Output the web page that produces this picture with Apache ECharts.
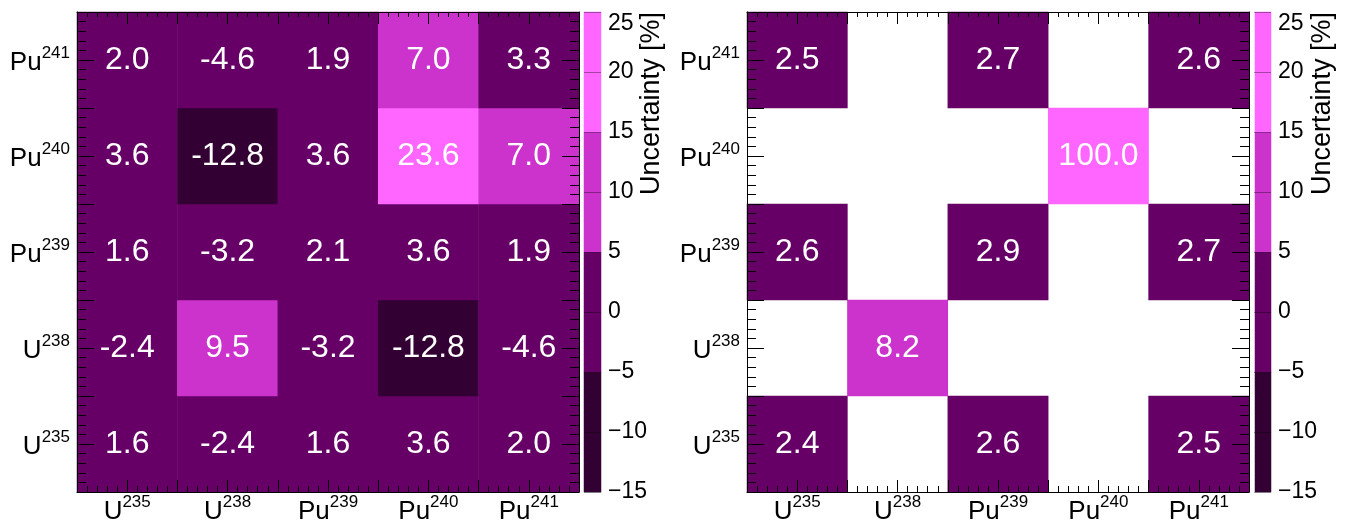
<!DOCTYPE html>
<html><head><meta charset="utf-8">
<script src="https://cdn.jsdelivr.net/npm/echarts@6/dist/echarts.min.js"></script>
<style>html,body{margin:0;padding:0;background:#fff}#c{width:1362px;height:525px}</style>
</head><body><div id="c"></div>
<script>
// ---- data ----
const isotopeSymbols = ['U', 'U', 'Pu', 'Pu', 'Pu'];
const massNumbers = ['235', '238', '239', '240', '241'];
// rows from bottom (U235) to top (Pu241); columns U235 .. Pu241
const correlationRows = [
  [1.6, -2.4, 1.6, 3.6, 2.0],      // U235
  [-2.4, 9.5, -3.2, -12.8, -4.6],  // U238
  [1.6, -3.2, 2.1, 3.6, 1.9],      // Pu239
  [3.6, -12.8, 3.6, 23.6, 7.0],    // Pu240
  [2.0, -4.6, 1.9, 7.0, 3.3]       // Pu241
];
const uncertaintyRows = [
  [2.4, null, 2.6, null, 2.5],     // U235
  [null, 8.2, null, null, null],   // U238
  [2.6, null, 2.9, null, 2.7],     // Pu239
  [null, null, null, 100.0, null], // Pu240
  [2.5, null, 2.7, null, 2.6]      // Pu241
];
const paletteBounds = [-15, -5, 5, 15, 25];
const paletteColors = ['#330033', '#660066', '#cc33cc', '#ff66ff'];
const colorbarMin = -15, colorbarMax = 25, colorbarStep = 5;
const colorbarTitle = 'Uncertainty [%]';

// ---- build ----
const FONT = '"Liberation Sans", Arial, Helvetica, sans-serif';
const cats = massNumbers.map((m, i) => isotopeSymbols[i] + m);
function toCells(rows) {
  const out = [];
  rows.forEach((r, y) => r.forEach((v, x) => { if (v !== null) out.push([x, y, v]); }));
  return out;
}
const rich = {
  m: { fontSize: 26, fontFamily: FONT, color: '#000', lineHeight: 31, verticalAlign: 'bottom' },
  s: { fontSize: 17, fontFamily: FONT, color: '#000', verticalAlign: 'top' }
};
function isoLabel(v) {
  const i = Math.floor(v + 1e-9);
  if (Math.abs(v - i - 0.5) > 1e-6 || i < 0 || i >= cats.length) return '';
  return '{m|' + isotopeSymbols[i] + '}{s|' + massNumbers[i] + '}';
}
const black = { color: '#000', width: 1 };
function valAxis(g, pos, major, minor, labels, isY) {
  return {
    gridIndex: g, type: 'value', position: pos, min: 0, max: 5, interval: 0.5, z: 6,
    axisLine: { show: true, onZero: false, lineStyle: black },
    axisTick: { show: true, inside: true, length: major, lineStyle: black },
    minorTick: { show: true, splitNumber: 5, length: minor, lineStyle: black },
    splitLine: { show: false }, minorSplitLine: { show: false },
    axisLabel: labels ? { show: true, margin: isY ? 7 : 2, formatter: isoLabel, rich: rich } : { show: false }
  };
}
function catAxis(g, data) {
  return { gridIndex: g, type: 'category', data: data, show: false };
}
const binCats = paletteColors.map((c, i) => 'b' + i);
const colorbarCells = paletteColors.map((c, i) => [0, i, (paletteBounds[i] + paletteBounds[i + 1]) / 2]);
function cbAxis(g) {
  return {
    gridIndex: g, type: 'value', position: 'right', min: colorbarMin, max: colorbarMax, interval: colorbarStep, z: 6,
    axisLine: { show: false },
    axisTick: { show: true, inside: true, length: 17, lineStyle: { color: 'rgba(0,0,0,0.35)', width: 1 } },
    splitLine: { show: false },
    axisLabel: {
      show: true, margin: 7, fontSize: 23, fontFamily: FONT, color: '#000',
      verticalAlignMaxLabel: 'top',
      formatter: v => String(v).replace('-', '\u2212')
    }
  };
}
const mainLabel = { show: true, color: '#fff', fontSize: 32, fontFamily: FONT, formatter: p => p.value[2].toFixed(1) };

const option = {
  animation: false,
  backgroundColor: '#fff',
  grid: [
    { left: 77, top: 12, width: 502, height: 480 },
    { left: 584, top: 12, width: 17, height: 480 },
    { left: 747, top: 12, width: 502, height: 480 },
    { left: 1255, top: 12, width: 16, height: 480 }
  ],
  xAxis: [
    catAxis(0, cats), valAxis(0, 'bottom', 12, 6, true, false), valAxis(0, 'top', 12, 5, false, false),
    catAxis(1, ['cb']),
    catAxis(2, cats), valAxis(2, 'bottom', 12, 6, true, false), valAxis(2, 'top', 12, 5, false, false),
    catAxis(3, ['cb'])
  ],
  yAxis: [
    catAxis(0, cats), valAxis(0, 'left', 17, 9, true, true), valAxis(0, 'right', 17, 9, false, true),
    catAxis(1, binCats), cbAxis(1),
    catAxis(2, cats), valAxis(2, 'left', 17, 9, true, true), valAxis(2, 'right', 17, 9, false, true),
    catAxis(3, binCats), cbAxis(3)
  ],
  visualMap: {
    type: 'piecewise', show: false, seriesIndex: [0, 1, 2, 3], dimension: 2,
    pieces: paletteColors.map((c, i) => i === paletteColors.length - 1
      ? { gte: paletteBounds[i], color: c }
      : { gte: paletteBounds[i], lt: paletteBounds[i + 1], color: c })
  },
  series: [
    { type: 'heatmap', xAxisIndex: 0, yAxisIndex: 0, data: toCells(correlationRows), label: mainLabel, emphasis: { disabled: true } },
    { type: 'heatmap', xAxisIndex: 3, yAxisIndex: 3, data: colorbarCells, emphasis: { disabled: true } },
    { type: 'heatmap', xAxisIndex: 4, yAxisIndex: 5, data: toCells(uncertaintyRows), label: mainLabel, emphasis: { disabled: true } },
    { type: 'heatmap', xAxisIndex: 7, yAxisIndex: 8, data: colorbarCells, emphasis: { disabled: true } }
  ],
  graphic: [
    { type: 'text', x: 652, y: 12, rotation: Math.PI / 2, z: 10,
      style: { text: colorbarTitle, fontSize: 27, fontFamily: FONT, fill: '#000', align: 'right', verticalAlign: 'middle' } },
    { type: 'text', x: 1323, y: 12, rotation: Math.PI / 2, z: 10,
      style: { text: colorbarTitle, fontSize: 27, fontFamily: FONT, fill: '#000', align: 'right', verticalAlign: 'middle' } }
  ]
};
const chart = echarts.init(document.getElementById('c'), null, { renderer: 'canvas' });
chart.setOption(option);
</script>
</body></html>
